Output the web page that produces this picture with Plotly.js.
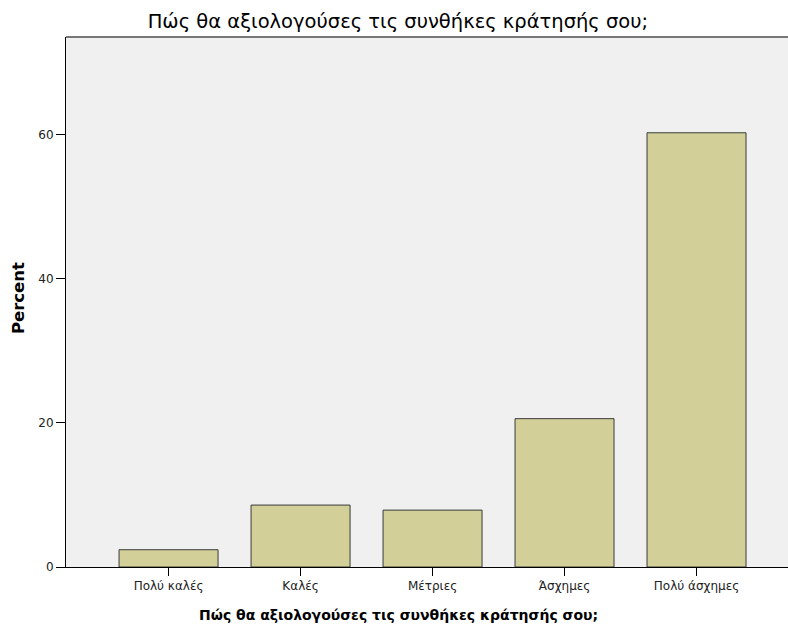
<!DOCTYPE html>
<html>
<head>
<meta charset="utf-8">
<script src="https://cdn.plot.ly/plotly-3.0.1.min.js"></script>
<style>body{margin:0;padding:0;background:#fff}#chart{width:788px;height:628px}</style>
</head>
<body>
<div id="chart"></div>
<script>
const categories = ["Πολύ καλές", "Καλές", "Μέτριες", "Άσχημες", "Πολύ άσχημες"];
const percentValues = [2.4, 8.6, 7.9, 20.6, 60.3];
const yTickValues = [0, 20, 40, 60];
const titleText = "Πώς θα αξιολογούσες τις συνθήκες κράτησής σου;";
const yTitleText = "Percent";

const font = "DejaVu Sans, Verdana, sans-serif";

const trace = {
  type: "bar",
  x: categories.map((c, i) => i),
  y: percentValues,
  width: 0.75,
  marker: {color: "#d3cf99", line: {color: "#3a3a3a", width: 1}},
  hoverinfo: "none"
};

const layout = {
  width: 788, height: 628,
  margin: {l: 66, r: 0, t: 37, b: 61},
  paper_bgcolor: "#ffffff",
  plot_bgcolor: "#f0f0f0",
  showlegend: false,
  title: {text: titleText, font: {family: font, size: 19.5, color: "#000"}, x: 0.505, xanchor: "center", y: 0.966, yanchor: "middle"},
  xaxis: {
    range: [-0.777, 4.693],
    tickmode: "array", tickvals: categories.map((c, i) => i), ticktext: categories,
    ticks: "outside", ticklen: 8, tickcolor: "#000", tickwidth: 1,
    showline: true, linecolor: "#000", linewidth: 1,
    showgrid: false, zeroline: false,
    tickfont: {family: font, size: 12, color: "#222"}
  },
  yaxis: {
    range: [0, 73.6],
    tickmode: "array", tickvals: yTickValues,
    ticks: "outside", ticklen: 9, tickcolor: "#000", tickwidth: 1,
    showline: true, linecolor: "#000", linewidth: 1,
    showgrid: false, zeroline: false,
    tickfont: {family: font, size: 12, color: "#222"}
  },
  annotations: [
    {text: "<b>" + titleText + "</b>", xref: "paper", yref: "paper", x: 0.46, y: -0.091, xanchor: "center", yanchor: "middle", showarrow: false, font: {family: font, size: 14, color: "#000"}},
    {text: "<b>" + yTitleText + "</b>", xref: "paper", yref: "paper", x: -0.066, y: 0.508, xanchor: "center", yanchor: "middle", textangle: -90, showarrow: false, font: {family: font, size: 16.5, color: "#000"}}
  ],
  shapes: [
    {type: "line", xref: "paper", yref: "paper", x0: 0, x1: 1, y0: 1, y1: 1, line: {color: "#777", width: 2}}
  ]
};

Plotly.newPlot("chart", [trace], layout, {displayModeBar: false, staticPlot: true});
</script>
</body>
</html>
